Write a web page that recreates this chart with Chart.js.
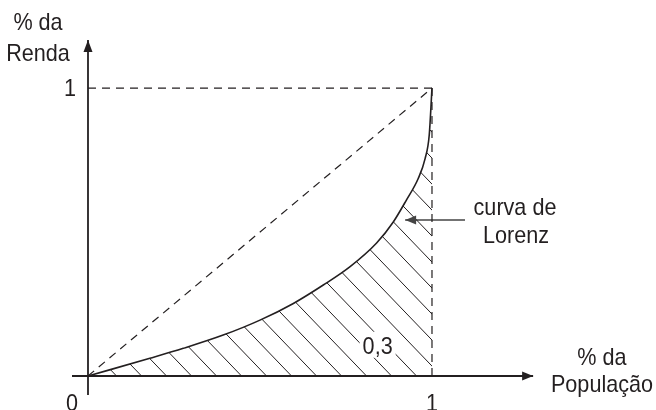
<!DOCTYPE html>
<html>
<head>
<meta charset="utf-8">
<script src="https://cdn.jsdelivr.net/npm/chart.js@4"></script>
<style>
  html, body { margin: 0; padding: 0; background: #fff; }
  #wrap { width: 656px; height: 410px; }
</style>
</head>
<body>
<div id="wrap"><canvas id="chart"></canvas></div>
<script>
'use strict';

// Lorenz curve, share of population vs share of income
let popShare = [0, 0.18, 0.277, 0.393, 0.5, 0.597, 0.684, 0.762, 0.839, 0.8875, 0.926, 0.96, 0.98, 0.992, 1];
let incomeShare = [0, 0.0615, 0.096, 0.142, 0.194, 0.252, 0.316, 0.38, 0.462, 0.535, 0.612, 0.686, 0.755, 0.837, 1];

let xTicks = [0, 1];
let xTickLabels = ['0', '1'];
let yTicks = [1];
let yTickLabels = ['1'];

let yTitle = ['% da', 'Renda'];
let xTitle = ['% da', 'População'];
let curveLabel = ['curva de', 'Lorenz'];
let giniLabel = '0,3';

// axis extent (the arrows run past 1)
let xMin = -0.0465, xMax = 1.314;
let yMin = -0.066, yMax = 1.167;

let ink = '#231f20';
let font = '24px "Liberation Sans", Arial, sans-serif';

let canvasElem = document.getElementById('chart');

// diagonal hatching for the area under the curve
function hatchPattern() {
  let w = 25, h = 26, off = 5;
  let c = document.createElement('canvas');
  c.width = w; c.height = h;
  let g = c.getContext('2d');
  g.strokeStyle = ink;
  g.lineWidth = 1;
  for (let k = -1; k <= 1; k++) {
    g.beginPath();
    g.moveTo(off + k * w, 0);
    g.lineTo(off + (k + 1) * w, h);
    g.stroke();
  }
  return g.createPattern(c, 'repeat');
}

function xy(xs, ys) {
  let out = [];
  for (let i = 0; i < xs.length; i++) {
    out.push({x: xs[i], y: ys[i]});
  }
  return out;
}

// slightly narrow lettering
function label(ctx, txt, x, y) {
  ctx.save();
  ctx.translate(x, y);
  ctx.scale(0.9, 1);
  ctx.fillText(txt, 0, 0);
  ctx.restore();
}

// arrowheads on the last point of datasets that ask for one
let arrowPlugin = {
  id: 'arrows',
  afterDatasetsDraw(chart) {
    let ctx = chart.ctx;
    chart.data.datasets.forEach((ds, i) => {
      if (!ds.arrowHead) return;
      let pts = chart.getDatasetMeta(i).data;
      let a = pts[pts.length - 2], b = pts[pts.length - 1];
      let ang = Math.atan2(b.y - a.y, b.x - a.x);
      let len = ds.arrowHead.length, half = ds.arrowHead.width / 2;
      ctx.save();
      ctx.translate(b.x, b.y);
      ctx.rotate(ang);
      ctx.fillStyle = ds.borderColor;
      ctx.beginPath();
      ctx.moveTo(0, 0);
      ctx.lineTo(-len, -half);
      ctx.lineTo(-len, half);
      ctx.closePath();
      ctx.fill();
      ctx.restore();
    });
  }
};

// tick labels and text
let textPlugin = {
  id: 'texts',
  afterDraw(chart) {
    let ctx = chart.ctx;
    let xs = chart.scales.x, ys = chart.scales.y;
    let ox = xs.getPixelForValue(0), oy = ys.getPixelForValue(0);
    ctx.save();
    ctx.font = font;
    ctx.fillStyle = ink;
    ctx.textBaseline = 'alphabetic';

    ctx.textAlign = 'center';
    for (let i = 0; i < xTicks.length; i++) {
      let px = xs.getPixelForValue(xTicks[i]);
      if (xTicks[i] === 0) px -= 16;
      label(ctx, xTickLabels[i], px, oy + 35);
    }
    ctx.textAlign = 'right';
    for (let i = 0; i < yTicks.length; i++) {
      label(ctx, yTickLabels[i], ox - 12, ys.getPixelForValue(yTicks[i]) + 8);
    }

    ctx.textAlign = 'center';
    let top = ys.getPixelForValue(1);
    label(ctx, yTitle[0], ox - 50, top - 58);
    label(ctx, yTitle[1], ox - 50, top - 27);

    let right = xs.getPixelForValue(1);
    label(ctx, xTitle[0], right + 170, oy - 11);
    label(ctx, xTitle[1], right + 170, oy + 16);

    let cy = ys.getPixelForValue(0.56);
    label(ctx, curveLabel[0], right + 83, cy);
    label(ctx, curveLabel[1], right + 84, cy + 28);

    // value label sits on a white patch over the hatching
    let gx = xs.getPixelForValue(0.842), gy = ys.getPixelForValue(0.105);
    ctx.fillStyle = '#fff';
    ctx.fillRect(gx - 18, gy - 14, 36, 26);
    ctx.fillStyle = ink;
    label(ctx, giniLabel, gx, gy + 8);
    ctx.restore();
  }
};

let chartObj = {
  type: 'scatter',
  data: {
    datasets: [
      {
        // area under the Lorenz curve
        data: xy(popShare, incomeShare),
        showLine: true,
        cubicInterpolationMode: 'monotone',
        borderColor: ink,
        borderWidth: 1.6,
        backgroundColor: hatchPattern(),
        fill: 'origin',
        pointRadius: 0,
        clip: false
      },
      {
        // line of perfect equality
        data: [{x: 0, y: 0}, {x: 1, y: 1}],
        showLine: true,
        borderColor: ink,
        borderWidth: 1.2,
        borderDash: [8, 6],
        pointRadius: 0
      },
      {
        data: [{x: 0, y: 1}, {x: 1, y: 1}],
        showLine: true,
        borderColor: ink,
        borderWidth: 1.2,
        borderDash: [8, 6],
        pointRadius: 0
      },
      {
        data: [{x: 1, y: 1}, {x: 1, y: -0.02}],
        showLine: true,
        borderColor: ink,
        borderWidth: 1.2,
        borderDash: [8, 6],
        pointRadius: 0,
        clip: false
      },
      {
        // x axis
        data: [{x: xMin, y: 0}, {x: xMax - 0.02, y: 0}],
        showLine: true,
        borderColor: ink,
        borderWidth: 1.8,
        pointRadius: 0,
        clip: false,
        arrowHead: {length: 11, width: 9}
      },
      {
        // y axis
        data: [{x: 0, y: yMin}, {x: 0, y: yMax}],
        showLine: true,
        borderColor: ink,
        borderWidth: 1.8,
        pointRadius: 0,
        clip: false,
        arrowHead: {length: 12, width: 9}
      },
      {
        // pointer to the curve
        data: [{x: 1.096, y: 0.542}, {x: 0.922, y: 0.542}],
        showLine: true,
        borderColor: '#444',
        borderWidth: 1.6,
        pointRadius: 0,
        clip: false,
        arrowHead: {length: 11, width: 9}
      }
    ]
  },
  options: {
    responsive: true,
    maintainAspectRatio: false,
    animation: false,
    layout: {
      padding: {left: 72, right: 656 - 540, top: 40, bottom: 15}
    },
    plugins: {
      legend: {display: false},
      tooltip: {enabled: false},
      title: {display: false}
    },
    scales: {
      x: {type: 'linear', min: xMin, max: xMax, display: false},
      y: {type: 'linear', min: yMin, max: yMax, display: false}
    }
  },
  plugins: [arrowPlugin, textPlugin]
};

new Chart(canvasElem, chartObj);
</script>
</body>
</html>
